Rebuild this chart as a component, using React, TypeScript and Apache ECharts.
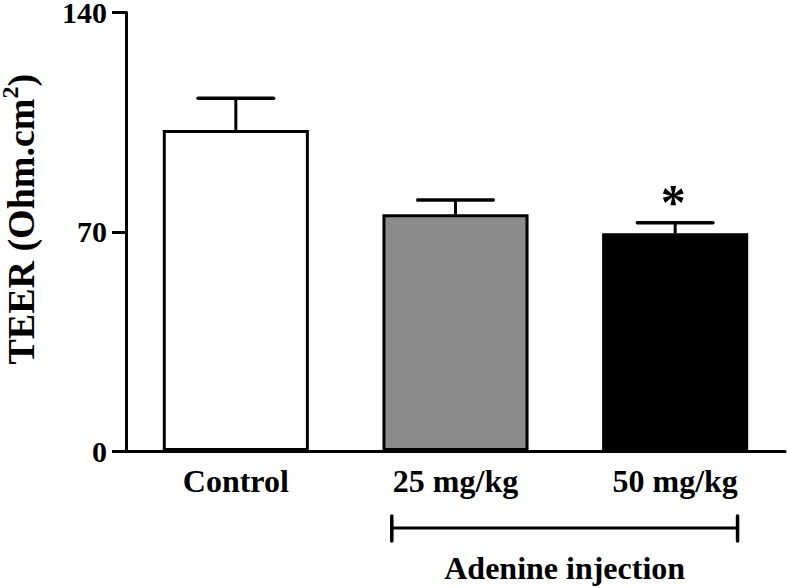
import React, { useEffect, useRef } from "react";
import * as echarts from "echarts";

const categories = ["Control", "25 mg/kg", "50 mg/kg"];
const means = [102.5, 75.6, 69.5];
const errors = [10.1, 4.5, 3.4];
const barColors = ["#ffffff", "#8c8c8c", "#000000"];
const significance = ["", "", "*"];
const yTicks = { min: 0, max: 140, interval: 70 };
const bracketFrom = 1;
const bracketTo = 2;
const bracketLabel = "Adenine injection";
const yAxisName = "TEER (Ohm.cm{sup|2})";

const FONT = "'Liberation Serif', 'Times New Roman', serif";

export default function App() {
  const ref = useRef<HTMLDivElement>(null);

  useEffect(() => {
    if (!ref.current) return;
    const chart = echarts.init(ref.current, null, { renderer: "svg" });

    const errorData = means.map((m, i) => [i, m, errors[i]]);

    chart.setOption({
      animation: false,
      backgroundColor: "#ffffff",
      grid: {
        left: 126,
        right: 2,
        top: 12.5,
        bottom: 137,
        containLabel: false,
        outerBoundsMode: "none",
      },
      xAxis: {
        type: "category",
        data: categories,
        axisLine: { show: true, lineStyle: { color: "#000", width: 3 } },
        axisTick: { show: false },
        axisLabel: {
          color: "#000",
          fontFamily: FONT,
          fontWeight: "bold",
          fontSize: 32,
          margin: 14,
        },
      },
      yAxis: {
        type: "value",
        min: yTicks.min,
        max: yTicks.max,
        interval: yTicks.interval,
        splitLine: { show: false },
        axisLine: { show: true, lineStyle: { color: "#000", width: 3 } },
        axisTick: { show: true, length: 14, lineStyle: { color: "#000", width: 3 } },
        axisLabel: {
          color: "#000",
          fontFamily: FONT,
          fontWeight: "bold",
          fontSize: 30,
          lineHeight: 24,
          margin: 19,
        },
        name: yAxisName,
        nameLocation: "middle",
        nameGap: 82,
        nameTextStyle: {
          color: "#000",
          fontFamily: FONT,
          fontWeight: "bold",
          fontSize: 38,
          padding: [0, 0, 0, 25],
          rich: {
            sup: {
              color: "#000",
              fontFamily: FONT,
              fontWeight: "bold",
              fontSize: 24,
              padding: [0, 0, 22, 0],
            },
          },
        },
      },
      series: [
        {
          type: "bar",
          barWidth: "66.5%",
          data: means.map((v, i) => ({
            value: v,
            itemStyle: { color: barColors[i], borderColor: "#000", borderWidth: 3 },
          })),
          z: 2,
        },
        {
          type: "custom",
          clip: false,
          z: 3,
          data: errorData,
          renderItem: (params: any, api: any) => {
            const idx = api.value(0);
            const mean = api.value(1);
            const err = api.value(2);
            const top = api.coord([idx, mean]);
            const hi = api.coord([idx, mean + err]);
            const band = api.size([1, 0])[0];
            const half = band * 0.172;
            const children: any[] = [
              {
                type: "line",
                shape: { x1: top[0], y1: top[1], x2: hi[0], y2: hi[1] },
                style: { stroke: "#000", lineWidth: 3 },
              },
              {
                type: "line",
                shape: { x1: hi[0] - half, y1: hi[1], x2: hi[0] + half, y2: hi[1] },
                style: { stroke: "#000", lineWidth: 3.5, lineCap: "round" },
              },
            ];
            const sig = significance[params.dataIndex];
            if (sig) {
              children.push({
                type: "text",
                style: {
                  text: sig,
                  x: hi[0] - 2,
                  y: hi[1] - 21,
                  align: "center",
                  verticalAlign: "middle",
                  fontFamily: FONT,
                  fontWeight: "bold",
                  fontSize: 50,
                  fill: "#000",
                },
              });
            }
            return { type: "group", children };
          },
        },
        {
          type: "custom",
          clip: false,
          z: 3,
          data: [[bracketFrom, bracketTo]],
          renderItem: (params: any, api: any) => {
            const a = api.coord([api.value(0), 0]);
            const b = api.coord([api.value(1), 0]);
            const band = api.size([1, 0])[0];
            const x1 = a[0] - band * 0.29;
            const x2 = b[0] + band * 0.284;
            const y = a[1] + 77;
            return {
              type: "group",
              children: [
                {
                  type: "line",
                  shape: { x1, y1: y, x2, y2: y },
                  style: { stroke: "#000", lineWidth: 3 },
                },
                {
                  type: "line",
                  shape: { x1, y1: y - 12, x2: x1, y2: y + 13 },
                  style: { stroke: "#000", lineWidth: 3.5, lineCap: "round" },
                },
                {
                  type: "line",
                  shape: { x1: x2, y1: y - 12, x2, y2: y + 13 },
                  style: { stroke: "#000", lineWidth: 3.5, lineCap: "round" },
                },
                {
                  type: "text",
                  style: {
                    text: bracketLabel,
                    x: (x1 + x2) / 2,
                    y: y + 40,
                    align: "center",
                    verticalAlign: "middle",
                    fontFamily: FONT,
                    fontWeight: "bold",
                    fontSize: 32,
                    fill: "#000",
                  },
                },
              ],
            };
          },
        },
      ],
    });

    return () => chart.dispose();
  }, []);

  return (
    <div
      ref={ref}
      style={{ position: "fixed", left: 0, top: 0, width: 787, height: 588, background: "#fff" }}
    />
  );
}
